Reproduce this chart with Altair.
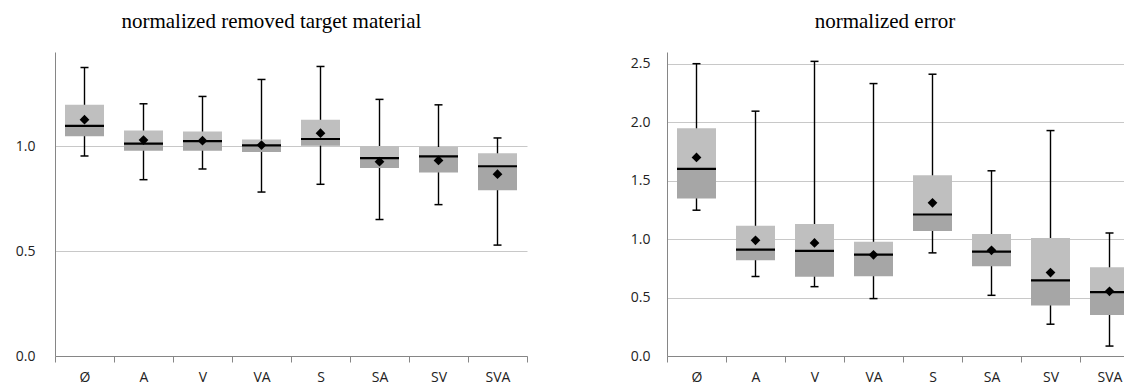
import altair as alt
import pandas as pd

cats = ["Ø", "A", "V", "VA", "S", "SA", "SV", "SVA"]

# normalized removed target material
rm_hi = [1.376, 1.203, 1.238, 1.319, 1.381, 1.224, 1.198, 1.040]
rm_q3 = [1.198, 1.075, 1.071, 1.033, 1.127, 1.002, 0.997, 0.967]
rm_med = [1.098, 1.013, 1.025, 1.005, 1.035, 0.944, 0.952, 0.905]
rm_mean = [1.127, 1.030, 1.027, 1.006, 1.063, 0.927, 0.933, 0.867]
rm_q1 = [1.048, 0.979, 0.979, 0.973, 1.003, 0.897, 0.875, 0.790]
rm_lo = [0.954, 0.841, 0.892, 0.782, 0.819, 0.651, 0.722, 0.529]
rm_ticks = [0.0, 0.5, 1.0]

# normalized error
er_hi = [2.50, 2.094, 2.52, 2.33, 2.41, 1.584, 1.928, 1.052]
er_q3 = [1.947, 1.114, 1.128, 0.978, 1.545, 1.043, 1.009, 0.759]
er_med = [1.601, 0.910, 0.899, 0.867, 1.210, 0.893, 0.646, 0.547]
er_mean = [1.698, 0.989, 0.967, 0.865, 1.310, 0.904, 0.714, 0.553]
er_q1 = [1.346, 0.819, 0.678, 0.683, 1.069, 0.768, 0.431, 0.351]
er_lo = [1.247, 0.680, 0.593, 0.491, 0.882, 0.519, 0.272, 0.085]
er_ticks = [0.0, 0.5, 1.0, 1.5, 2.0, 2.5]

BOX_W = 39


def panel(title, hi, q3, med, mean, q1, lo, ymax, ticks, width, lab_pad):
    df = pd.DataFrame({"cat": cats, "hi": hi, "q3": q3, "med": med,
                       "mean": mean, "q1": q1, "lo": lo})
    x = alt.X("cat:N", sort=cats, title=None,
              scale=alt.Scale(paddingInner=0, paddingOuter=0),
              axis=alt.Axis(labelAngle=0, tickBand="extent", grid=False))
    yscale = alt.Scale(domain=[0, ymax], nice=False, zero=True)
    yaxis = alt.Axis(values=ticks, format=".1f", labelPadding=lab_pad,
                     grid=True)

    def Y(f):
        return alt.Y(f + ":Q", scale=yscale, axis=yaxis, title=None)

    base = alt.Chart(df)
    whisk = base.mark_rule(color="black", strokeWidth=1.4).encode(
        x=x, y=Y("lo"), y2="hi:Q")
    cap_hi = base.mark_tick(color="black", size=8, thickness=1.5,
                            opacity=1).encode(x=x, y=Y("hi"))
    cap_lo = base.mark_tick(color="black", size=8, thickness=1.5,
                            opacity=1).encode(x=x, y=Y("lo"))
    lower = base.mark_bar(color="#A6A6A6", size=BOX_W, opacity=1).encode(
        x=x, y=Y("q1"), y2="med:Q")
    upper = base.mark_bar(color="#BFBFBF", size=BOX_W, opacity=1).encode(
        x=x, y=Y("med"), y2="q3:Q")
    median = base.mark_tick(color="black", size=BOX_W, thickness=2.2,
                            opacity=1).encode(x=x, y=Y("med"))
    meanpt = base.mark_point(shape="diamond", filled=True, color="black",
                             size=95, opacity=1).encode(x=x, y=Y("mean"))
    return alt.layer(whisk, cap_hi, cap_lo, lower, upper, median, meanpt).properties(
        width=width, height=304,
        title=alt.TitleParams(title, font="Liberation Serif", fontSize=21,
                              fontWeight="normal", color="black",
                              anchor="middle", frame="bounds", offset=20))


left = panel("normalized removed target material", rm_hi, rm_q3, rm_med,
             rm_mean, rm_q1, rm_lo, 1.45, rm_ticks, 472, 20)
right = panel("normalized error", er_hi, er_q3, er_med, er_mean, er_q1,
              er_lo, 2.6, er_ticks, 472, 17)

chart = (
    alt.hconcat(left, right, spacing=102)
    .properties(padding={"left": 7, "top": 3, "right": -16, "bottom": 0},
                background="white")
    .configure_view(strokeWidth=0, stroke=None)
    .configure_axis(labelFont="Open Sans", labelFontSize=14,
                    labelColor="#222222", domainColor="#868686",
                    tickColor="#868686", gridColor="#C8C8C8",
                    domainWidth=1, gridWidth=1)
    .configure_axisX(tickSize=6, labelPadding=8, grid=False)
    .configure_axisY(tickSize=0)
)

chart.save("out.html", embed_options={"renderer": "svg", "actions": False})
